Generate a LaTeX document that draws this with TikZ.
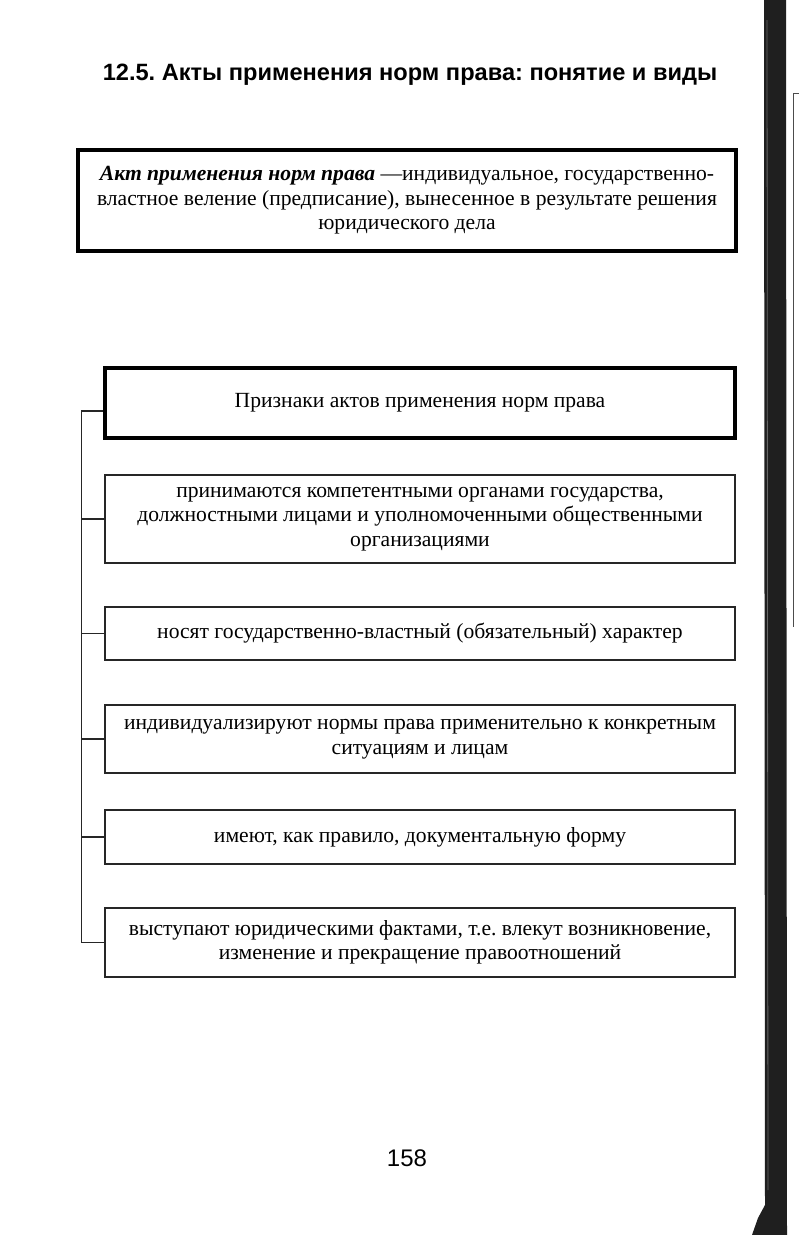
\documentclass[tikz,border=0pt]{standalone}
\usepackage{fontspec}
\setmainfont{Liberation Serif}
\newfontfamily\headsans{Liberation Sans}
\frenchspacing
\begin{document}
\begin{tikzpicture}[x=1pt,y=-1pt,
  txt/.style={font=\fontsize{21.6}{24.5}\selectfont, align=center, inner sep=0pt},
  thickbox/.style={txt, draw=black, line width=3.6pt, rectangle},
  thinbox/.style={txt, draw=black!85, line width=1.3pt, rectangle},
  link/.style={draw=black!85, line width=1.2pt}]
\useasboundingbox (0,0) rectangle (799,1235);
\fill[white] (0,0) rectangle (799,1235);
% title
\node[font=\headsans\bfseries\fontsize{23.6}{28}\selectfont, inner sep=0pt] (title) at (410,75)
  {\frenchspacing 12.5. Акты применения норм права: понятие и виды};
% definition
\node[thickbox, minimum width=658pt, minimum height=101pt] (def) at (407,200.5)
  {\textbf{\textit{Акт применения норм права}} —индивидуальное, государственно-\\
   властное веление (предписание), вынесенное в результате решения\\
   юридического дела};
% header
\node[thickbox, minimum width=630pt, minimum height=70pt] (head) at (420,403)
  {Признаки актов применения норм права};
\node[thinbox, minimum width=630pt, minimum height=88pt] (b1) at (420,519)
  {принимаются компетентными органами государства,\\
   должностными лицами и уполномоченными общественными\\
   организациями};
\node[thinbox, minimum width=630pt, minimum height=53pt] (b2) at (420,633.5)
  {носят государственно-властный (обязательный) характер};
\node[thinbox, minimum width=630pt, minimum height=68pt] (b3) at (420,739)
  {индивидуализируют нормы права применительно к конкретным\\
   ситуациям и лицам};
\node[thinbox, minimum width=630pt, minimum height=54pt] (b4) at (420,837)
  {имеют, как правило, документальную форму};
\node[thinbox, minimum width=630pt, minimum height=69pt] (b5) at (420,942.5)
  {\frenchspacing выступают юридическими фактами, т.е. влекут возникновение,\\
   изменение и прекращение правоотношений};
% bracket
\coordinate (spine) at ([xshift=-22pt,yshift=-8pt]head.west);
\draw[link] ([yshift=-8pt]head.west) -- (spine) |- (b5.west);
\foreach \b in {b1,b2,b3,b4}{
  \draw[link] (spine |- \b.west) -- (\b.west);
}
% page number
\node[font=\headsans\fontsize{24}{28}\selectfont, inner sep=0pt] (page) at (407,1158) {158};
% scan edge
\fill[black!88] (764,0) -- (786,0) -- (787,1235) -- (752,1235) -- (758,1218) -- (765,1205) -- cycle;
\draw[black!60, line width=0.8pt] (767,20) -- (768,1190);
\draw[black!70, line width=1pt] (799,93) -- (793,93) -- (793,627);
\end{tikzpicture}
\end{document}
